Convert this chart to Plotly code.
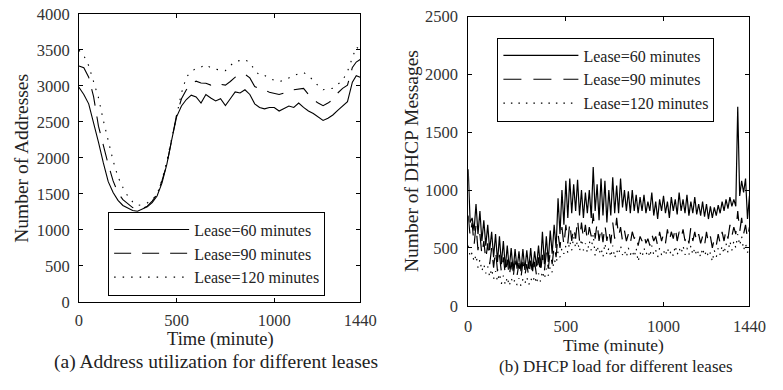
import plotly.graph_objects as go

# ---------------- data ----------------
# (a) Address utilization
addr_time = [0, 25, 50, 75, 100, 125, 150, 175, 200, 225, 250, 275, 300, 325, 350, 375, 400, 425, 450, 475,
             500, 525, 550, 575, 600, 625, 650, 675, 700, 725, 750, 775, 800, 825, 850, 875, 900, 925, 950, 975,
             1000, 1025, 1050, 1075, 1100, 1125, 1150, 1175, 1200, 1225, 1250, 1275, 1300, 1325, 1350, 1375,
             1400, 1420, 1440]
addr_60 = [2980, 2880, 2750, 2500, 2220, 1930, 1670, 1520, 1410, 1340, 1300, 1270, 1260, 1290, 1320, 1380,
           1470, 1650, 1910, 2250, 2570, 2720, 2810, 2870, 2845, 2760, 2880, 2830, 2790, 2820, 2725, 2820,
           2915, 2900, 2945, 2880, 2750, 2700, 2680, 2700, 2700, 2650, 2680, 2720, 2700, 2760, 2700, 2650,
           2615, 2570, 2520, 2550, 2595, 2660, 2725, 2780, 3050, 3140, 3120]
addr_90 = [3275, 3250, 3120, 2850, 2440, 2160, 1910, 1680, 1515, 1420, 1360, 1310, 1290, 1300, 1330, 1400,
           1495, 1680, 1910, 2250, 2595, 2820, 2945, 3030, 3065, 3040, 3035, 3010, 3035, 3020, 3010, 3060,
           3120, 3130, 3160, 3110, 2990, 2960, 2945, 2910, 2900, 2880, 2900, 2930, 2945, 2950, 2965, 2880,
           2810, 2760, 2725, 2760, 2810, 2900, 2965, 3010, 3255, 3330, 3365]
addr_120 = [3495, 3420, 3280, 3060, 2835, 2520, 2220, 1960, 1735, 1590, 1470, 1390, 1340, 1350, 1375, 1420,
            1495, 1690, 1955, 2280, 2595, 2900, 3120, 3200, 3240, 3260, 3295, 3250, 3230, 3220, 3210, 3280,
            3340, 3350, 3365, 3320, 3220, 3145, 3145, 3110, 3075, 3060, 3075, 3110, 3145, 3170, 3185, 3140,
            3075, 3000, 2945, 2950, 2965, 3020, 3075, 3200, 3405, 3540, 3495]

# (b) DHCP load, sampled every 10 minutes
load_time = list(range(0, 1441, 10))
load_60 = [1180, 720, 760, 650, 880, 620, 820, 560, 740, 520, 700, 480, 640, 420, 620, 380, 600, 360, 560, 330,
           520, 320, 500, 300, 490, 320, 470, 300, 490, 310, 480, 320, 500, 300, 470, 340, 520, 330, 640, 360,
           600, 380, 650, 450, 700, 500, 930, 620, 1000, 700, 1080, 760, 1100, 800, 1050, 820, 1090, 780, 1000, 760,
           980, 800, 1000, 760, 1200, 820, 1050, 740, 1100, 780, 1080, 720, 1000, 780, 1110, 800, 1040, 800, 1100, 850,
           1000, 820, 990, 800, 1000, 820, 960, 800, 940, 820, 960, 800, 900, 820, 980, 780, 900, 750, 920, 820,
           950, 800, 900, 760, 940, 820, 920, 790, 980, 820, 920, 800, 960, 780, 900, 800, 940, 790, 880, 780,
           900, 770, 880, 750, 860, 760, 850, 780, 870, 800, 900, 820, 920, 840, 940, 860, 920, 860, 1720, 950,
           1080, 980, 1100, 750, 950]
load_90 = [780, 600, 720, 520, 700, 480, 620, 440, 560, 400, 540, 360, 500, 330, 480, 300, 440, 290, 420, 270,
           400, 250, 380, 240, 390, 260, 370, 240, 380, 260, 360, 250, 390, 270, 380, 260, 420, 280, 440, 300,
           460, 320, 470, 360, 520, 420, 620, 500, 680, 520, 700, 540, 720, 560, 680, 580, 750, 560, 720, 580,
           700, 560, 680, 600, 800, 580, 720, 560, 680, 550, 700, 560, 660, 540, 720, 580, 760, 600, 680, 560,
           650, 560, 620, 540, 640, 580, 620, 520, 600, 560, 620, 540, 580, 520, 620, 560, 600, 520, 640, 560,
           620, 540, 660, 560, 640, 580, 680, 560, 640, 580, 660, 560, 620, 540, 680, 560, 640, 550, 620, 540,
           600, 520, 640, 540, 600, 500, 580, 520, 620, 540, 640, 560, 660, 580, 700, 600, 680, 620, 820, 640,
           760, 620, 700, 580, 680]
load_120 = [520, 420, 460, 380, 440, 330, 400, 300, 360, 280, 340, 250, 320, 230, 300, 210, 280, 190, 260, 180,
            250, 170, 240, 190, 230, 180, 240, 170, 230, 190, 250, 180, 240, 200, 260, 190, 280, 210, 300, 230,
            320, 260, 340, 290, 400, 360, 470, 420, 500, 450, 520, 460, 560, 480, 600, 500, 560, 470, 580, 480,
            540, 460, 560, 480, 620, 430, 520, 450, 500, 420, 540, 440, 500, 420, 520, 410, 480, 440, 520, 440,
            480, 420, 500, 440, 480, 420, 500, 380, 460, 420, 500, 440, 480, 420, 520, 440, 480, 420, 500, 440,
            480, 430, 500, 440, 480, 430, 520, 440, 500, 450, 520, 440, 500, 440, 520, 440, 500, 430, 480, 420,
            500, 430, 480, 420, 460, 380, 480, 420, 500, 440, 520, 450, 540, 460, 560, 480, 560, 500, 620, 520,
            600, 480, 540, 460, 500]

series_names = ["Lease=60 minutes", "Lease=90 minutes", "Lease=120 minutes"]
x_ticks = [0, 500, 1000, 1440]

# ---------------- figure ----------------
FONT = "Liberation Serif, Times New Roman, serif"
fig = go.Figure()

dash_a = ["solid", "17px,11px", "1.5px,7px"]
dash_b = ["solid", "18px,12px", "1.5px,6px"]

for name, ys, d in zip(series_names, [addr_60, addr_90, addr_120], dash_a):
    fig.add_trace(go.Scatter(x=addr_time, y=ys, mode="lines", name=name,
                             line=dict(color="black", width=1.1, dash=d),
                             xaxis="x", yaxis="y", legend="legend"))
for name, ys, d in zip(series_names, [load_60, load_90, load_120], dash_b):
    fig.add_trace(go.Scatter(x=load_time, y=ys, mode="lines", name=name,
                             line=dict(color="black", width=1.2, dash=d),
                             xaxis="x2", yaxis="y2", legend="legend2"))

W, H = 783, 390
def px_x(p):
    return p / W
def px_y(p):
    return 1 - p / H

axis_common = dict(showline=True, linecolor="black", linewidth=1, mirror="ticks",
                   ticks="inside", ticklen=4, tickcolor="black", showgrid=False, zeroline=False,
                   ticklabeloverflow="allow",
                   tickfont=dict(family=FONT, size=16.5, color="#333333"))

legend_common = dict(xanchor="left", yanchor="top", bordercolor="black", borderwidth=1,
                     bgcolor="white", font=dict(family=FONT, size=16, color="#222222"),
                     itemwidth=75, tracegroupgap=0)

fig.update_layout(
    width=W, height=H, margin=dict(l=0, r=0, t=0, b=0),
    font=dict(family=FONT, color="#222222"),
    paper_bgcolor="white", plot_bgcolor="white",
    xaxis=dict(domain=[px_x(77), px_x(366)], range=[0, 1440], tickvals=x_ticks, anchor="y",
               ticklabelstandoff=3, **axis_common),
    yaxis=dict(domain=[px_y(308), px_y(5)], range=[0, 4000], dtick=500, anchor="x",
               ticklabelstandoff=5, **axis_common),
    xaxis2=dict(domain=[px_x(477), px_x(766)], range=[0, 1440], tickvals=x_ticks, anchor="y2",
                ticklabelstandoff=5, **axis_common),
    yaxis2=dict(domain=[px_y(312), px_y(8)], range=[0, 2500], dtick=500, anchor="x2",
                ticklabelstandoff=6, **axis_common),
    legend=dict(x=px_x(107), y=px_y(213), **legend_common),
    legend2=dict(x=px_x(507), y=px_y(30), **legend_common),
    showlegend=True,
)

ann = [
    dict(text="Number of Addresses", x=px_x(18), y=px_y(157), textangle=-90, size=19.5),
    dict(text="Time (minute)", x=px_x(222), y=px_y(347), textangle=0, size=18.5),
    dict(text="(a) Address utilization for different leases", x=px_x(218), y=px_y(371), textangle=0, size=19.5),
    dict(text="Number of DHCP Messages", x=px_x(418), y=px_y(160), textangle=-90, size=19.5),
    dict(text="Time (minute)", x=px_x(626), y=px_y(353), textangle=0, size=17.5),
    dict(text="(b) DHCP load for different leases", x=px_x(629), y=px_y(376), textangle=0, size=17),
]
for a in ann:
    fig.add_annotation(text=a["text"], x=a["x"], y=a["y"], xref="paper", yref="paper",
                       xanchor="center", yanchor="middle", showarrow=False, textangle=a["textangle"],
                       font=dict(family=FONT, size=a["size"], color="#222222"))

fig.write_html("out.html")
